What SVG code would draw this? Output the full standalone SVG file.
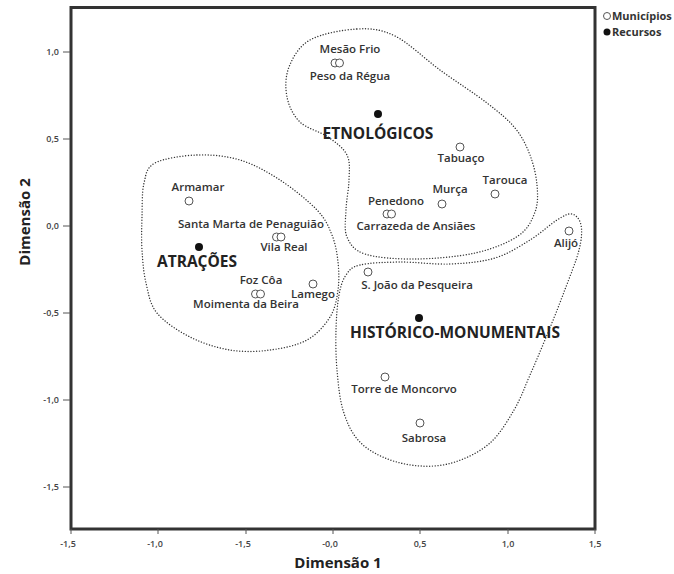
<svg xmlns="http://www.w3.org/2000/svg" width="674" height="574" viewBox="0 0 674 574">
<style>
.lbl{font-family:"Open Sans","Liberation Sans",sans-serif;font-weight:600;font-size:11.5px;fill:#333;text-anchor:middle}
.big{font-family:"Open Sans","Liberation Sans",sans-serif;font-weight:700;font-size:15.5px;fill:#222;text-anchor:middle}
.tick{font-family:"Open Sans","Liberation Sans",sans-serif;font-weight:600;font-size:9px;fill:#444}
.axt{font-family:"Open Sans","Liberation Sans",sans-serif;font-weight:700;font-size:15px;fill:#222;text-anchor:middle}
.leg{font-family:"Open Sans","Liberation Sans",sans-serif;font-weight:700;font-size:11px;fill:#333}
.mun{fill:#fff;stroke:#555;stroke-width:1}
.rec{fill:#111}
.contour{fill:none;stroke:#333;stroke-width:1.4;stroke-linecap:round;stroke-dasharray:0.01 2.8}
</style>
<rect x="0" y="0" width="674" height="574" fill="#fff"/>
<g id="axes">
<rect x="71" y="7.5" width="524" height="521.5" fill="none" stroke="#333" stroke-width="3"/>
<g stroke="#555" stroke-width="1">
<line x1="71" y1="529" x2="71" y2="534"/><line x1="158" y1="529" x2="158" y2="534"/><line x1="246" y1="529" x2="246" y2="534"/><line x1="333" y1="529" x2="333" y2="534"/><line x1="420" y1="529" x2="420" y2="534"/><line x1="508" y1="529" x2="508" y2="534"/><line x1="595" y1="529" x2="595" y2="534"/>
<line x1="63" y1="52" x2="70" y2="52"/><line x1="63" y1="139" x2="70" y2="139"/><line x1="63" y1="226" x2="70" y2="226"/><line x1="63" y1="313" x2="70" y2="313"/><line x1="63" y1="400" x2="70" y2="400"/><line x1="63" y1="487" x2="70" y2="487"/>
</g>
<g class="tick" text-anchor="middle">
<text x="68" y="547">-1,5</text><text x="155" y="547">-1,0</text><text x="243" y="547">-1,5</text><text x="330" y="547">-0,0</text><text x="420" y="547">0,5</text><text x="508" y="547">1,0</text><text x="595" y="547">1,5</text>
</g>
<g class="tick" text-anchor="end">
<text x="59" y="55">1,0</text><text x="59" y="142">0,5</text><text x="59" y="229">0,0</text><text x="59" y="316">-0,5</text><text x="59" y="403">-1,0</text><text x="59" y="490">-1,5</text>
</g>
<text class="axt" x="338" y="568">Dimensão 1</text>
<text class="axt" transform="translate(30,222) rotate(-90)">Dimensão 2</text>
</g>
<g id="connectors">
<path id="etnologicos-contour" class="contour" d="M357,29 C371.2,28.3 381.2,29.2 395,36 C408.8,42.8 424.7,58.8 440,70 C455.3,81.2 474.5,93.3 487,103 C499.5,112.7 507.8,119.3 515,128 C522.2,136.7 526.3,145.5 530,155 C533.7,164.5 536.2,175.5 537,185 C537.8,194.5 538.2,203.5 535,212 C531.8,220.5 528,229.2 518,236 C508,242.8 492.2,249.2 475,253 C457.8,256.8 433.3,258.8 415,259 C396.7,259.2 376.3,257.7 365,254 C353.7,250.3 350.2,244.3 347,237 C343.8,229.7 345.7,219.5 346,210 C346.3,200.5 348.8,189.2 349,180 C349.2,170.8 350.5,162.2 347,155 C343.5,147.8 335.8,142.5 328,137 C320.2,131.5 306.8,128.7 300,122 C293.2,115.3 288.8,106.2 287,97 C285.2,87.8 285.2,76.5 289,67 C292.8,57.5 298.7,46.3 310,40 C321.3,33.7 342.8,29.7 357,29 Z"/>
<path id="atracoes-contour" class="contour" d="M197,155 C211.2,154.5 226.2,155.8 240,160 C253.8,164.2 267.2,171.7 280,180 C292.8,188.3 308.3,200.8 317,210 C325.7,219.2 328.5,226.3 332,235 C335.5,243.7 337,252.8 338,262 C339,271.2 339.3,280.8 338,290 C336.7,299.2 335.2,308.7 330,317 C324.8,325.3 317,334.5 307,340 C297,345.5 282.8,348.3 270,350 C257.2,351.7 243.3,352.2 230,350 C216.7,347.8 202.2,343.2 190,337 C177.8,330.8 164.3,322 157,313 C149.7,304 148.5,293.5 146,283 C143.5,272.5 142.7,261 142,250 C141.3,239 141.7,228.2 142,217 C142.3,205.8 141.8,192 144,183 C146.2,174 146.2,167.7 155,163 C163.8,158.3 182.8,155.5 197,155 Z"/>
<path id="historico-contour" class="contour" d="M360,265 C369,262.8 385,262.2 400,262 C415,261.8 434.2,264.7 450,264 C465.8,263.3 481.7,262 495,258 C508.3,254 519.7,246.3 530,240 C540.3,233.7 550,224.3 557,220 C564,215.7 568,213.2 572,214 C576,214.8 579.8,219 581,225 C582.2,231 581.8,238.8 579,250 C576.2,261.2 569.3,277.8 564,292 C558.7,306.2 552.7,321.2 547,335 C541.3,348.8 535.5,362.5 530,375 C524.5,387.5 520.7,398.7 514,410 C507.3,421.3 499.8,434.3 490,443 C480.2,451.7 466.7,458.2 455,462 C443.3,465.8 431.7,466.7 420,466 C408.3,465.3 395.3,462.3 385,458 C374.7,453.7 365,448 358,440 C351,432 346.5,421.7 343,410 C339.5,398.3 338.2,383.3 337,370 C335.8,356.7 335.7,342.5 336,330 C336.3,317.5 337.3,304.2 339,295 C340.7,285.8 342.5,280 346,275 C349.5,270 351,267.2 360,265 Z"/>
</g>
<g id="mesao-frio"><circle class="mun" cx="335" cy="63" r="4"/><text class="lbl" x="350" y="53">Mesão Frio</text></g>
<g id="peso-da-regua"><circle class="mun" cx="339.5" cy="63" r="4"/><text class="lbl" x="350" y="80">Peso da Régua</text></g>
<g id="etnologicos"><circle class="rec" cx="378" cy="114" r="4"/><text class="big" x="378" y="139">ETNOLÓGICOS</text></g>
<g id="tabuaco"><circle class="mun" cx="460" cy="147" r="4"/><text class="lbl" x="461" y="162">Tabuaço</text></g>
<g id="tarouca"><circle class="mun" cx="495" cy="194" r="4"/><text class="lbl" x="505" y="184">Tarouca</text></g>
<g id="murca"><circle class="mun" cx="442" cy="204" r="4"/><text class="lbl" x="450" y="193">Murça</text></g>
<g id="penedono"><circle class="mun" cx="387" cy="214" r="4"/><text class="lbl" x="396" y="205">Penedono</text></g>
<g id="carrazeda"><circle class="mun" cx="391.5" cy="214" r="4"/><text class="lbl" x="416" y="230">Carrazeda de Ansiães</text></g>
<g id="armamar"><circle class="mun" cx="189" cy="201" r="4"/><text class="lbl" x="198" y="191">Armamar</text></g>
<g id="santa-marta"><circle class="mun" cx="276.5" cy="237" r="4"/><text class="lbl" x="251" y="228">Santa Marta de Penaguião</text></g>
<g id="vila-real"><circle class="mun" cx="281" cy="237" r="4"/><text class="lbl" x="284" y="251">Vila Real</text></g>
<g id="atracoes"><circle class="rec" cx="199" cy="247" r="4"/><text class="big" x="197" y="267">ATRAÇÕES</text></g>
<g id="foz-coa"><circle class="mun" cx="255.5" cy="294" r="4"/><text class="lbl" x="261" y="284">Foz Côa</text></g>
<g id="moimenta"><circle class="mun" cx="260.5" cy="294" r="4"/><text class="lbl" x="246" y="308">Moimenta da Beira</text></g>
<g id="lamego"><circle class="mun" cx="313" cy="284" r="4"/><text class="lbl" x="313" y="298">Lamego</text></g>
<g id="alijo"><circle class="mun" cx="569" cy="231" r="4"/><text class="lbl" x="566" y="247">Alijó</text></g>
<g id="sao-joao"><circle class="mun" cx="368" cy="272" r="4"/><text class="lbl" x="417" y="289">S. João da Pesqueira</text></g>
<g id="historico"><circle class="rec" cx="419" cy="318" r="4"/><text class="big" x="455" y="338">HISTÓRICO-MONUMENTAIS</text></g>
<g id="torre-de-moncorvo"><circle class="mun" cx="385" cy="377" r="4"/><text class="lbl" x="404" y="393">Torre de Moncorvo</text></g>
<g id="sabrosa"><circle class="mun" cx="420" cy="423" r="4"/><text class="lbl" x="424" y="442">Sabrosa</text></g>
<g id="legend">
<circle class="mun" cx="607" cy="16" r="3.5"/><text class="leg" x="612" y="20">Municípios</text>
<circle class="rec" cx="607" cy="32" r="3.5"/><text class="leg" x="612" y="36">Recursos</text>
</g>
</svg>
